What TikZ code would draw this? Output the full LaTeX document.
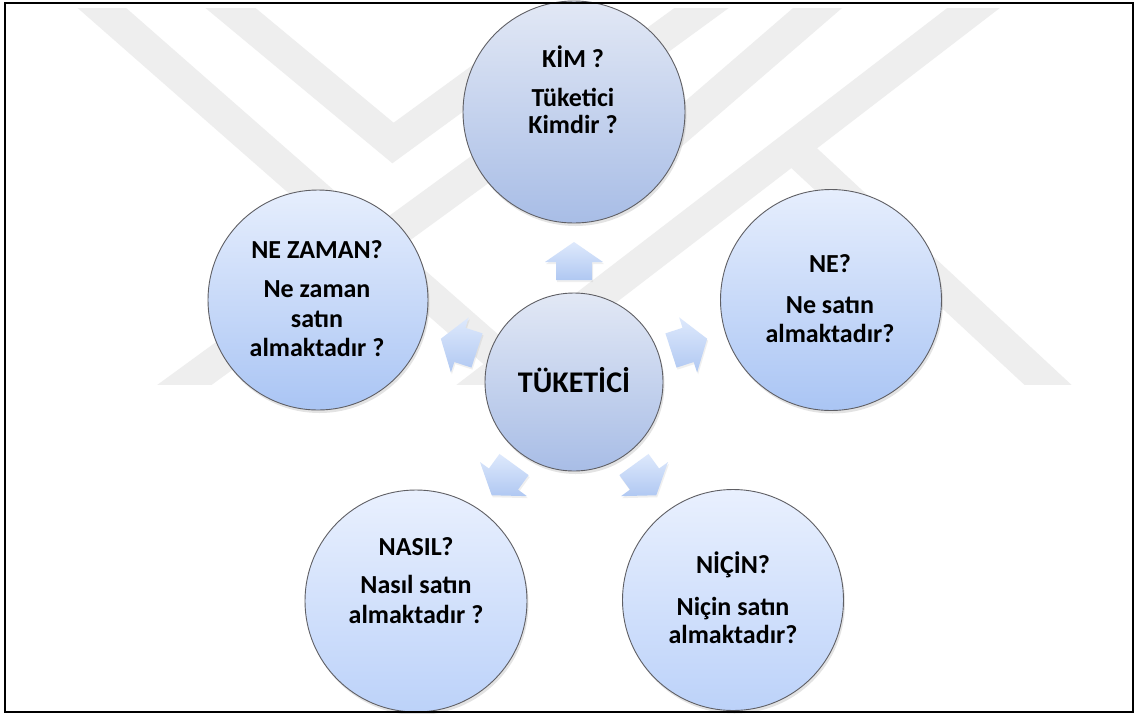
\documentclass[tikz,border=0pt]{standalone}
\usepackage{fontspec}
\setmainfont{Carlito}
\usetikzlibrary{calc,shadows}
\definecolor{wm}{RGB}{238,238,238}
\definecolor{edge}{RGB}{95,95,100}
\definecolor{gtop}{RGB}{226,232,245}
\definecolor{gbot}{RGB}{168,189,230}
\definecolor{btop}{RGB}{230,238,253}
\definecolor{bbot}{RGB}{170,197,244}
\definecolor{ltop}{RGB}{233,240,254}
\definecolor{lbot}{RGB}{188,210,249}
\definecolor{atop}{RGB}{222,233,252}
\definecolor{abot}{RGB}{176,200,242}
\tikzset{
  band/.style={draw=wm, line width=32pt, line cap=butt, line join=miter},
  bubble/.style={circle, draw=edge, line width=0.9pt, inner sep=0pt,
     drop shadow={opacity=0.22, shadow xshift=1.5pt, shadow yshift=-3pt}},
  greyb/.style={bubble, top color=gtop, bottom color=gbot},
  blueb/.style={bubble, top color=btop, bottom color=bbot},
  lightb/.style={bubble, top color=ltop, bottom color=lbot},
  blockarrow/.style={top color=atop, bottom color=abot,
     drop shadow={opacity=0.12, shadow xshift=1pt, shadow yshift=-2pt}},
  lbl/.style={font=\fontsize{26}{30}\selectfont\bfseries, anchor=base, inner sep=0pt},
  biglbl/.style={font=\fontsize{30}{34}\selectfont\bfseries, anchor=base, inner sep=0pt},
  framebox/.style={draw=black, line width=2pt}
}
\begin{document}
\begin{tikzpicture}[x=1pt,y=-1pt]
\useasboundingbox (0,0) rectangle (1135,713);
\fill[white] (0,0) rectangle (1135,713);
% faint watermark
\begin{scope}
\clip (6,8) rectangle (1131,384);
\draw[band] (150,410) -- (740,-20);
\draw[band] (70,-20) -- (560,410);
\draw[band] (198,-19) -- (393,143) -- (615,-19);
\draw[band] (450,410) -- (1010,-20);
\draw[band] (850,-20) -- (630,170);
\draw[band] (790,145) -- (1075,410);
\end{scope}
% bubbles
\node[greyb, minimum size=222pt] (kim) at (574,112) {};
\node[blueb, minimum size=220pt] (nezaman) at (318,300) {};
\node[blueb, minimum size=221pt] (ne) at (831,300) {};
\node[lightb, minimum size=222pt] (nasil) at (416,601) {};
\node[lightb, minimum size=221pt] (nicin) at (733,600) {};
\node[greyb, minimum size=178pt] (tk) at (574,382) {};
% block arrows
\foreach \d [count=\i] in {-90,-18,54,126,198} {
  \coordinate (ac\i) at ($(tk)+(\d:121)$);
  \shade[blockarrow] ($(ac\i)+(\d:19)$)
    -- ($(ac\i)+(\d:-1)+(\d+90:29)$)
    -- ($(ac\i)+(\d:-1)+(\d+90:18)$)
    -- ($(ac\i)+(\d:-19)+(\d+90:18)$)
    -- ($(ac\i)+(\d:-19)+(\d-90:18)$)
    -- ($(ac\i)+(\d:-1)+(\d-90:18)$)
    -- ($(ac\i)+(\d:-1)+(\d-90:29)$) -- cycle;
}
% texts
\node[biglbl] (tkA) at (574,392) {TÜKETİCİ};
\node[lbl] (kimA) at (573,67) {KİM ?};
\node[lbl] (kimB) at (573,106) {Tüketici};
\node[lbl] (kimC) at (573,133) {Kimdir ?};
\node[lbl] (nzA) at (317,258) {NE ZAMAN?};
\node[lbl] (nzB) at (317,297) {Ne zaman};
\node[lbl] (nzC) at (317,327) {satın};
\node[lbl] (nzD) at (317,356) {almaktadır ?};
\node[lbl] (neA) at (830,272) {NE?};
\node[lbl] (neB) at (830,313) {Ne satın};
\node[lbl] (neC) at (830,342) {almaktadır?};
\node[lbl] (naA) at (416,555) {NASIL?};
\node[lbl] (naB) at (416,593) {Nasıl satın};
\node[lbl] (naC) at (416,623) {almaktadır ?};
\node[lbl] (niA) at (733,573) {NİÇİN?};
\node[lbl] (niB) at (733,615) {Niçin satın};
\node[lbl] (niC) at (733,643) {almaktadır?};
% frame
\draw[framebox] (5,2.5) rectangle (1133,711.5);
\end{tikzpicture}
\end{document}
